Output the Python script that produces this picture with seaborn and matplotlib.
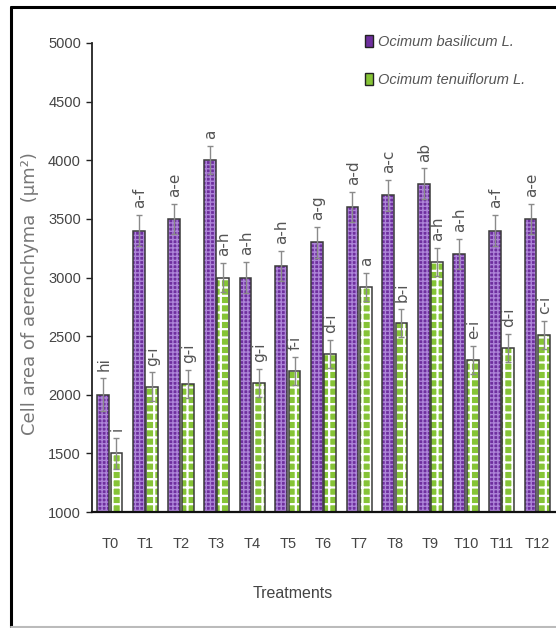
import matplotlib
matplotlib.use("Agg")
import matplotlib.pyplot as plt
from matplotlib.patches import Rectangle, Patch
from matplotlib.lines import Line2D
import seaborn as sns
import pandas as pd

treatments = ["T0", "T1", "T2", "T3", "T4", "T5", "T6", "T7", "T8", "T9", "T10", "T11", "T12"]
species = ["Ocimum basilicum L.", "Ocimum tenuiflorum L."]
basilicum = [2000, 3400, 3500, 4000, 3000, 3100, 3300, 3600, 3700, 3800, 3200, 3400, 3500]
tenuiflorum = [1500, 2070, 2090, 3000, 2100, 2200, 2350, 2920, 2610, 3130, 2300, 2400, 2510]
basilicum_err = [140, 130, 130, 120, 130, 130, 130, 130, 130, 130, 130, 130, 130]
tenuiflorum_err = [130, 120, 120, 120, 120, 120, 120, 120, 120, 120, 120, 120, 120]
basilicum_letters = ["hi", "a-f", "a-e", "a", "a-h", "a-h", "a-g", "a-d", "a-c", "ab", "a-h", "a-f", "a-e"]
tenuiflorum_letters = ["i", "g-i", "g-i", "a-h", "g-i", "f-i", "d-i", "a", "b-i", "a-h", "e-i", "d-i", "c-i"]

df = pd.DataFrame({
    "Treatment": treatments * 2,
    "Species": [species[0]] * len(treatments) + [species[1]] * len(treatments),
    "Area": basilicum + tenuiflorum,
})

sns.set_style("white")
plt.rcParams["font.family"] = ["Liberation Sans", "DejaVu Sans"]
plt.rcParams["hatch.linewidth"] = 1.0

W, H = 556, 628
fig = plt.figure(figsize=(W / 100, H / 100), dpi=100)
ax = fig.add_axes([92 / W, 1 - 512 / H, 463 / W, 469 / H])

sns.barplot(data=df, x="Treatment", y="Area", hue="Species", order=treatments,
            hue_order=species, errorbar=None, width=0.75, gap=0.12,
            palette=["#7B3DAF", "#8FCB3C"], legend=False, ax=ax)

styles = [
    dict(face="#6E2F9E", hatch_col="#AD84D8", hatch="++++", hlw=1.0),
    dict(face="#86C436", hatch_col="#FFFFFF", hatch="++", hlw=1.6),
]
errs = [basilicum_err, tenuiflorum_err]
vals = [basilicum, tenuiflorum]
letters = [basilicum_letters, tenuiflorum_letters]

bar_containers = list(ax.containers)
for k, cont in enumerate(bar_containers):
    st = styles[k]
    xs = []
    for p in cont.patches:
        p.set_facecolor(st["face"])
        p.set_edgecolor(st["hatch_col"])
        p.set_hatch(st["hatch"])
        if hasattr(p, "set_hatch_linewidth"):
            p.set_hatch_linewidth(st["hlw"])
        p.set_linewidth(0)
        ax.add_patch(Rectangle(p.get_xy(), p.get_width(), p.get_height(),
                               fill=False, edgecolor="#3a3a3a", lw=1.1, zorder=p.get_zorder() + 0.1))
        xs.append(p.get_x() + p.get_width() / 2)
    ax.errorbar(xs, vals[k], yerr=errs[k], fmt="none", ecolor="#8a8a8a",
                elinewidth=1.0, capsize=2.0, capthick=1.0, zorder=5)
    for x, v, e, lab in zip(xs, vals[k], errs[k], letters[k]):
        ax.annotate(lab, (x, v + e), xytext=(0.5, 5), textcoords="offset points",
                    rotation=90, ha="center", va="bottom", fontsize=11,
                    color="#555555", family=["DejaVu Sans"])

ax.set_ylim(1000, 5000)
ax.set_yticks(range(1000, 5001, 500))
ax.set_xlim(-0.5, len(treatments) - 0.5)
ax.set_xticks(range(len(treatments)))
ax.set_xticklabels(treatments)
ax.set_xticks([i - 0.5 for i in range(len(treatments) + 1)], minor=True)
ax.tick_params(axis="x", which="major", length=0, pad=18, labelsize=10.5, labelcolor="#444444")
ax.tick_params(axis="x", which="minor", length=7, width=1.0, color="#555555", direction="out")
ax.tick_params(axis="y", length=4, width=1.0, color="#222222", direction="out",
               labelsize=10.5, labelcolor="#444444", pad=4, left=True)

for s in ["top", "right"]:
    ax.spines[s].set_visible(False)
ax.spines["left"].set_color("#222222")
ax.spines["left"].set_linewidth(1.3)
ax.spines["bottom"].set_color("#111111")
ax.spines["bottom"].set_linewidth(1.6)

ax.set_xlabel("Treatments", fontsize=11.5, color="#444444")
ax.xaxis.set_label_coords((293 - 92) / 463, -(593 - 512) / 469)
ax.xaxis.label.set_verticalalignment("center")
ax.set_ylabel("Cell area of aerenchyma  (\u00b5m\u00b2)", fontsize=13, color="#777777",
              family=["DejaVu Sans"])
ax.yaxis.set_label_coords(-(92 - 30) / 463, (512 - 294) / 469)
ax.yaxis.label.set_verticalalignment("center")

handles = [Patch(facecolor=st["face"], edgecolor="#222222", lw=1.0) for st in styles]
leg = ax.legend(handles, species, loc="upper right", bbox_to_anchor=(0.965, 1.045),
                frameon=False, handlelength=0.55, handleheight=0.9, handletextpad=0.35,
                labelspacing=1.65, prop=dict(style="italic", size=10.5))
for t in leg.get_texts():
    t.set_color("#555555")

# outer frame
fig.add_artist(Line2D([11 / W, 1], [1 - 7 / H, 1 - 7 / H], color="black", lw=2.2, transform=fig.transFigure))
fig.add_artist(Line2D([11 / W, 11 / W], [1 - 7 / H, 1 - 627 / H], color="black", lw=2.2, transform=fig.transFigure))
fig.add_artist(Line2D([11 / W, 1], [1 - 627 / H, 1 - 627 / H], color="#bbbbbb", lw=1.5, transform=fig.transFigure))

fig.savefig("out.png", dpi=100)
